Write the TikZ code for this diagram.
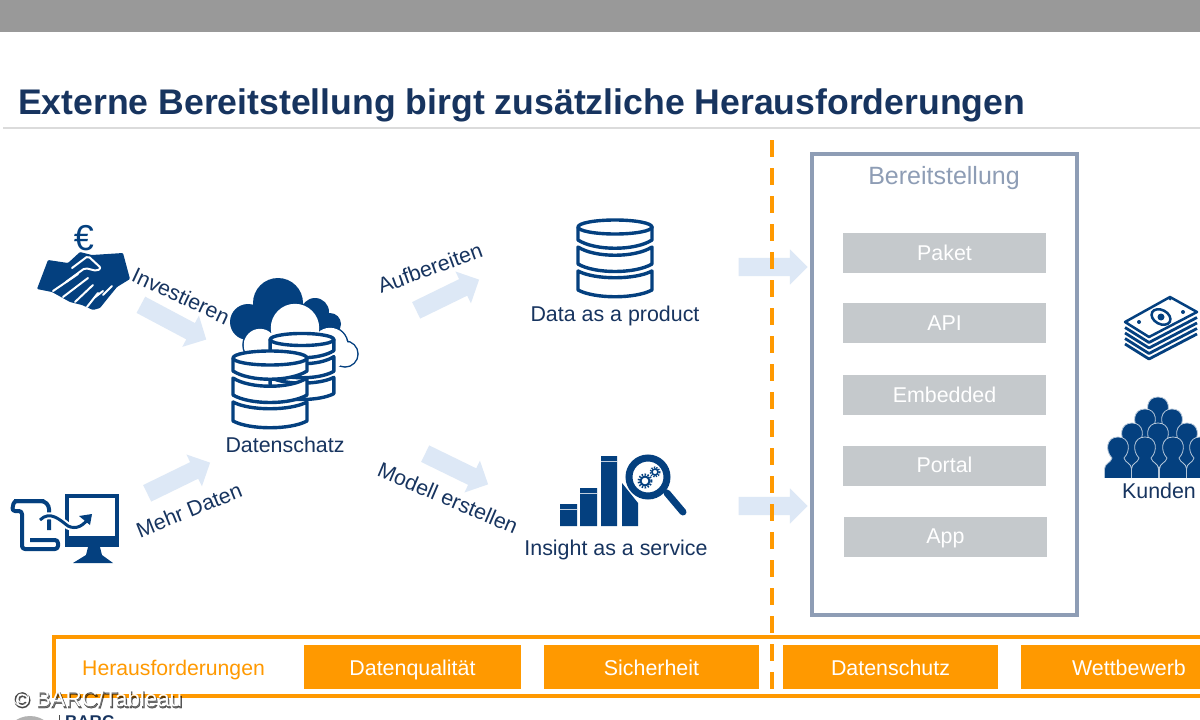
\documentclass[tikz,border=0pt]{standalone}
\usepackage{fontspec}
\setmainfont{Liberation Sans}
\usetikzlibrary{shapes.arrows}
\definecolor{iconblue}{HTML}{04407F}
\definecolor{textblue}{HTML}{17345F}
\definecolor{arrowblue}{HTML}{DDE8F6}
\definecolor{framegray}{HTML}{8E9DB5}
\definecolor{slotgray}{HTML}{C5C9CC}
\definecolor{accent}{HTML}{FF9900}
\tikzset{
  label text/.style={text=textblue,font=\fontsize{21.4}{25}\selectfont,inner sep=0pt},
  slot/.style={fill=slotgray,text=white,minimum width=203pt,minimum height=40pt,inner sep=0pt,text height=14pt,text depth=0pt,font=\fontsize{21.4}{25}\selectfont},
  challenge/.style={fill=accent,text=white,minimum width=217pt,minimum height=44pt,inner sep=0pt,text height=16pt,text depth=0pt,font=\fontsize{21.4}{25}\selectfont},
  flow/.style={single arrow,fill=arrowblue,inner sep=0pt,text height=18pt,text depth=0pt,text width=0pt,single arrow head extend=8.5pt,single arrow head indent=0pt},
  dbline/.style={draw=iconblue,line width=3.4pt,fill=white,line join=round},
  dbstack/.pic={
    \path[dbline] (-37,12) .. controls (-20,21) and (20,21) .. (37,12) -- (37,31) .. controls (20,40) and (-20,40) .. (-37,31) -- cycle;
    \path[dbline] (-37,-12) .. controls (-20,-1) and (20,-1) .. (37,-12) -- (37,5) .. controls (20,15) and (-20,15) .. (-37,5) -- cycle;
    \path[dbline] (-37,-32) -- (-37,-19) .. controls (-20,-8) and (20,-8) .. (37,-19) -- (37,-32) -- cycle;
    \path[dbline] (0,-32) ellipse [x radius=37,y radius=7];
  },
  person/.pic={
    \filldraw[fill=iconblue,draw=white!70!iconblue,line width=.8pt] (-13.5,33) -- (-13.5,21) .. controls (-13.5,15) and (-7,15) .. (-6,10) .. controls (-13,3) and (-12,-11) .. (0,-11) .. controls (12,-11) and (13,3) .. (6,10) .. controls (7,15) and (13.5,15) .. (13.5,21) -- (13.5,33) -- cycle;
  }
}
\begin{document}
\begin{tikzpicture}[x=1pt,y=-1pt]
\useasboundingbox (0,0) rectangle (1200,720);
\clip (0,0) rectangle (1200,720);
\fill[white] (0,0) rectangle (1200,720);
% top bar and title
\fill[black!40] (0,0) rectangle (1200,32);
\draw[black!14,line width=1.5pt] (3,128) -- (1200,128);
\node[anchor=west,inner sep=0pt,text=textblue,font=\fontsize{35.6}{40}\selectfont\bfseries] (title) at (18,105) {Externe Bereitstellung birgt zusätzliche Herausforderungen};

% block arrows
\node[flow,minimum height=74pt,rotate=-28] (arrowA) at (169.5,320) {};
\node[flow,minimum height=70pt,rotate=26] (arrowB) at (174.5,480) {};
\node[flow,minimum height=70pt,rotate=26] (arrowC) at (443.5,297) {};
\node[flow,minimum height=70pt,rotate=-26] (arrowD) at (452.5,467) {};
\node[flow,minimum height=69pt] (arrowE) at (768.5,267) {};
\node[flow,minimum height=69pt] (arrowF) at (768.5,506) {};

% handshake
\node[text=iconblue,inner sep=0pt,font=\fontsize{36}{40}\selectfont] (euro) at (84,238) {€};
\fill[iconblue,rounded corners=1pt] (37,289) -- (48,260) -- (68,263) -- (80,252) -- (92,255) -- (123,253) -- (130,279) -- (117,287) -- (108,298) -- (100,308) -- (93,310) -- (82,305) -- (70,302) -- (52,292) -- cycle;
\draw[white,line width=2pt,line cap=round] (53,291) -- (78,274) (63,297) -- (88,278) (75,302) -- (93,285) (87,307) -- (98,293) (94,298) -- (103,291) (103,295) -- (112,286);
\draw[white,line width=2pt,line join=round,line cap=round,rounded corners=2pt] (72,268) -- (88,256) -- (101,268) -- (97,271) -- (85,268) -- (66,282);

% Datenschatz cloud and stacks
\fill[iconblue] (278,303) circle[radius=25] (248,322) circle[radius=18] (315,312) circle[radius=14] (330,324) circle[radius=11];
\fill[iconblue] (245,320) rectangle (320,340);
\draw[iconblue,line width=1.5pt] (295,328) circle[radius=25] (260,345) circle[radius=17] (330,345) circle[radius=18] (345,354) circle[radius=13];
\fill[white] (295,328) circle[radius=24.2] (260,345) circle[radius=16.2] (330,345) circle[radius=17.2] (345,354) circle[radius=12.2];
\fill[white] (260,335) rectangle (340,366);
\pic[scale=.86] at (302,367) {dbstack};
\pic at (270,390) {dbstack};
\node[label text] (schatz) at (285,445) {Datenschatz};

% monitor and scroll
\draw[iconblue,line width=4pt] (67,496) rectangle (117,544);
\fill[iconblue] (65,536) rectangle (119,547);
\fill[iconblue] (88,547) -- (100,547) -- (102,555) -- (113,563) -- (73,563) -- (86,555) -- cycle;
\draw[iconblue,line width=4pt,line join=round,rounded corners=3pt] (44,501) -- (14,501) -- (12,511) -- (22,511) -- (22,549) -- (58,549) -- (58,540) -- (30,540);
\draw[iconblue,line width=4pt,rounded corners=3pt] (14,501) -- (44,501) -- (49,506) -- (49,530);
\draw[white,line width=7pt] (40,520) .. controls (50,510) and (60,520) .. (68,526) .. controls (76,530) and (84,526) .. (90,516);
\draw[iconblue,line width=3pt] (40,520) .. controls (50,510) and (60,520) .. (68,526) .. controls (76,530) and (84,526) .. (90,516);
\fill[iconblue] (92,514) -- (79,516) -- (90,525) -- cycle;

% output stacks
\pic at (615,259) {dbstack};
\node[label text] (product) at (615,316) {Data as a product};

\fill[iconblue] (560,504) rectangle (577,526) (580,488) rectangle (597,526) (601,456) rectangle (617,526);
\fill[iconblue] (622,483) -- (638,503) -- (638,526) -- (622,526) -- cycle;
\draw[white!75!iconblue,line width=1pt] (560,509) -- (577,509) (580,493) -- (597,493) (601,461) -- (617,461);
\draw[white,line width=5pt] (631,485) -- (640,500);
\draw[iconblue,line width=7pt,line cap=round] (667,493) -- (683,512);
\filldraw[fill=white,draw=iconblue,line width=7pt] (648,477) circle[radius=19];
\draw[iconblue,line width=2pt] (645,481) circle[radius=4.5];
\draw[iconblue,line width=2pt,dash pattern=on 1.5pt off 1.5pt] (645,481) circle[radius=6.5];
\draw[iconblue,line width=1.6pt] (655,472) circle[radius=3];
\draw[iconblue,line width=1.6pt,dash pattern=on 1.3pt off 1.3pt] (655,472) circle[radius=4.8];
\node[label text] (insight) at (616,550) {Insight as a service};

% flow labels
\node[label text,rotate=-25] (invest) at (181,296) {Investieren};
\node[label text,rotate=22] (mehr) at (189,510) {Mehr Daten};
\node[label text,rotate=20] (aufb) at (430,268) {Aufbereiten};
\node[label text,rotate=-23] (modell) at (448,498) {Modell erstellen};

% Bereitstellung frame
\draw[framegray,line width=4pt] (812,154) rectangle (1077,615);
\node[inner sep=0pt,text=framegray,font=\fontsize{25}{28}\selectfont] (bereit) at (944,178) {Bereitstellung};
\node[slot] (paket) at (944.5,253) {Paket};
\node[slot] (api) at (944.5,323) {API};
\node[slot] (embedded) at (944.5,395) {Embedded};
\node[slot] (portal) at (944.5,465.5) {Portal};
\node[slot] (app) at (945.5,536.5) {App};

% money
\filldraw[fill=white,draw=iconblue,line width=2.5pt,line join=round] (1125,322) -- (1170,297) -- (1197,312) -- (1149,337) -- cycle;
\foreach \k in {1,...,4}
  \draw[iconblue,line width=2.8pt,line join=round] (1125,322+\k*5.5) -- (1149,337+\k*5.5) -- (1197,312+\k*5.5);
\filldraw[fill=white,draw=iconblue,line width=2.5pt,rotate around={-28:(1161,317)}] (1161,317) ellipse[x radius=10,y radius=7];
\fill[iconblue] (1161,317) circle[radius=3.5] (1139,322) circle[radius=2] (1183,312) circle[radius=2] (1170,299) circle[radius=1.5] (1127,322) circle[radius=1.5];

% customers
\foreach \px/\py in {1158/408,1145/420,1172/420,1132/434,1158/434,1187/434,1118/448,1145/448,1173/448,1200/448}
  \pic at (\px,\py) {person};
\fill[white] (1100,478) rectangle (1200,484);
\node[label text] (kunden) at (1159,491) {Kunden};

% challenges
\draw[accent,line width=4pt] (54,637) rectangle (1260,696);
\node[anchor=west,inner sep=0pt,text=accent,font=\fontsize{21.2}{25}\selectfont] (heraus) at (82,670) {Herausforderungen};
\node[challenge] (quali) at (412.5,667) {Datenqualität};
\node[challenge,minimum width=215pt] (sicher) at (651.5,667) {Sicherheit};
\node[challenge,minimum width=215pt] (schutz) at (890.5,667) {Datenschutz};
\node[challenge,minimum width=216pt] (wett) at (1129,667) {Wettbewerb};

% dashed separator
\draw[accent,line width=4pt,dash pattern=on 17pt off 11pt] (772,140) -- (772,697);

% footer
\fill[black!30] (30,742) circle[radius=26];
\draw[black!70,line width=1pt] (59,715) -- (59,720);
\node[anchor=north west,inner sep=0pt,text=textblue,font=\fontsize{17}{20}\selectfont\bfseries] (logo) at (65,715) {BARC};
\node[anchor=west,inner sep=0pt,text=black,opacity=.5,font=\fontsize{22.3}{26}\selectfont\addfontfeature{FakeBold=3}] (creditshadow) at (14,700) {© BARC/Tableau};
\node[anchor=west,inner sep=0pt,text=white,font=\fontsize{22.3}{26}\selectfont] (credit) at (13,699) {© BARC/Tableau};
\end{tikzpicture}
\end{document}
